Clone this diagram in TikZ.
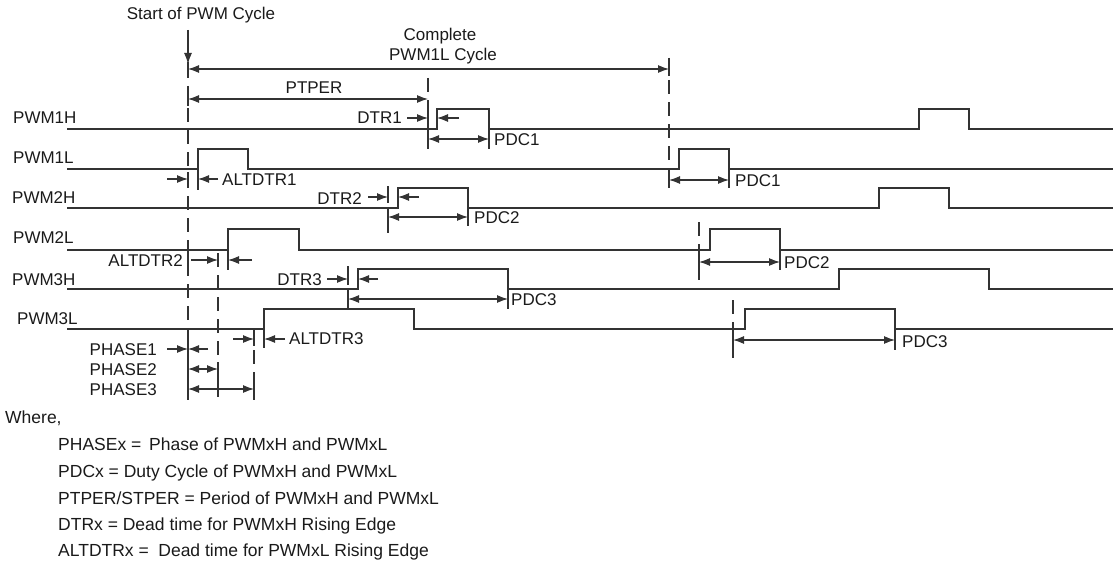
\documentclass[tikz,border=0pt]{standalone}
\usepackage{fontspec}
\setmainfont{Liberation Sans}
\usetikzlibrary{arrows.meta}
\definecolor{linea}{HTML}{333333}
\definecolor{testo}{HTML}{1A1A1A}
\tikzset{
  sig/.style={line width=1.3pt, linea},
  tick/.style={line width=1.2pt, linea},
  guida/.style={line width=1.2pt, linea, dash pattern=on 14pt off 8pt},
  punta/.tip={Latex[length=11pt,width=8pt]},
  quota/.style={line width=1.2pt, linea, -punta},
  quota2/.style={line width=1.2pt, linea, punta-punta},
  lbl/.style={inner sep=0pt, text height=12pt, text depth=0pt, text=testo, font=\fontsize{17}{20}\selectfont},
  leg/.style={lbl, anchor=west, font=\fontsize{17.5}{20}\selectfont},
}
\begin{document}
\begin{tikzpicture}[x=1pt,y=-1pt]
  \useasboundingbox (0,0) rectangle (1117,578);
  %segnali
  \draw[sig] (67,129) -| (437,109) -| (489,129) -| (919,109) -| (969,129) -- (1113,129);
  \draw[sig] (67,169) -| (198,149) -| (248,169) -| (679,149) -| (729,169) -- (1113,169);
  \draw[sig] (67,208) -| (398,188) -| (468,208) -| (879,188) -| (949,208) -- (1113,208);
  \draw[sig] (67,250) -| (228,229) -| (299,250) -| (710,229) -| (780,250) -- (1113,250);
  \draw[sig] (67,289) -| (358,269) -| (508,289) -| (839,269) -| (989,289) -- (1113,289);
  \draw[sig] (67,329) -| (264,309) -| (414,329) -| (745,309) -| (895,329) -- (1113,329);
  \node[lbl,anchor=west] (n1H) at (13,118) {PWM1H};
  \node[lbl,anchor=west] (n1L) at (13,157) {PWM1L};
  \node[lbl,anchor=west] (n2H) at (12,197) {PWM2H};
  \node[lbl,anchor=west] (n2L) at (13,237) {PWM2L};
  \node[lbl,anchor=west] (n3H) at (12,279) {PWM3H};
  \node[lbl,anchor=west] (n3L) at (17,318) {PWM3L};
  %linee guida
  \draw[guida] (188,64) -- (188,400);
  \draw[guida] (428,78) -- (428,149);
  \draw[guida] (669,58) -- (669,188);
  \draw[guida] (388,186) -- (388,233);
  \draw[guida] (348,266) -- (348,309);
  \draw[guida] (218,253) -- (218,397);
  \draw[guida] (254,328) -- (254,400);
  \draw[guida] (699,222) -- (699,282);
  \draw[guida] (733,300) -- (733,363);
  \draw[tick] (188,62) -- (188,76) (188,92) -- (188,106) (188,172) -- (188,186)
    (188,253) -- (188,268) (188,342) -- (188,356) (188,362) -- (188,400)
    (428,110) -- (428,125) (428,132) -- (428,149) (669,58) -- (669,76) (669,174) -- (669,188)
    (218,253) -- (218,267) (218,362) -- (218,397) (254,328) -- (254,346) (254,382) -- (254,400)
    (388,188) -- (388,203) (388,210) -- (388,233) (348,269) -- (348,285) (348,292) -- (348,309)
    (699,255) -- (699,269) (733,333) -- (733,347)
    (489,129) -- (489,149) (198,169) -- (198,190) (729,169) -- (729,188) (468,208) -- (468,226)
    (228,250) -- (228,270) (780,250) -- (780,270) (508,289) -- (508,309) (264,329) -- (264,348)
    (895,329) -- (895,350);
  %quote
  \node[lbl] (inizio) at (201,14) {Start of PWM Cycle};
  \draw[quota] (188,30) -- (188,64);
  \node[lbl] (ciclo) at (440,35) {Complete};
  \node[lbl] (ciclo2) at (443,55) {PWM1L Cycle};
  \draw[quota2] (188,69) -- (669,69);
  \node[lbl] (ptper) at (314,87) {PTPER};
  \draw[quota2] (188,99) -- (428,99);
  \node[lbl,anchor=east] (dtr1) at (402,118) {DTR1};
  \draw[quota] (407,118) -- (428,118);
  \draw[quota] (459,118) -- (437,118);
  \node[lbl,anchor=west] (pdc1) at (494,139) {PDC1};
  \draw[quota2] (428,139) -- (489,139);
  \node[lbl,anchor=west] (altdtr1) at (222,179) {ALTDTR1};
  \draw[quota] (167,179) -- (188,179);
  \draw[quota] (218,179) -- (198,179);
  \node[lbl,anchor=west] (pdc1b) at (735,180) {PDC1};
  \draw[quota2] (669,180) -- (729,180);
  \node[lbl,anchor=east] (dtr2) at (362,198) {DTR2};
  \draw[quota] (368,197) -- (388,197);
  \draw[quota] (419,197) -- (398,197);
  \node[lbl,anchor=west] (pdc2) at (474,217) {PDC2};
  \draw[quota2] (388,217) -- (468,217);
  \node[lbl,anchor=east] (altdtr2) at (183,260) {ALTDTR2};
  \draw[quota] (191,260) -- (218,260);
  \draw[quota] (252,260) -- (228,260);
  \node[lbl,anchor=west] (pdc2b) at (784,262) {PDC2};
  \draw[quota2] (699,262) -- (780,262);
  \node[lbl,anchor=east] (dtr3) at (322,279) {DTR3};
  \draw[quota] (327,279) -- (348,279);
  \draw[quota] (378,279) -- (358,279);
  \node[lbl,anchor=west] (pdc3) at (511,299) {PDC3};
  \draw[quota2] (348,299) -- (508,299);
  \node[lbl,anchor=west] (altdtr3) at (289,338) {ALTDTR3};
  \draw[quota] (233,339) -- (254,339);
  \draw[quota] (285,339) -- (264,339);
  \node[lbl,anchor=west] (pdc3b) at (902,341) {PDC3};
  \draw[quota2] (733,340) -- (895,340);
  \node[lbl,anchor=east] (fase1) at (157,349) {PHASE1};
  \draw[quota] (167,349) -- (188,349);
  \draw[quota] (208,349) -- (188,349);
  \node[lbl,anchor=east] (fase2) at (157,369) {PHASE2};
  \draw[quota2] (188,369) -- (218,369);
  \node[lbl,anchor=east] (fase3) at (157,389) {PHASE3};
  \draw[quota2] (188,389) -- (254,389);
  %legenda
  \node[leg] (dove) at (5,417) {Where,};
  \node[leg] (leg1) at (58,444) {PHASEx =\hspace{0.45em}Phase of PWMxH and PWMxL};
  \node[leg] (leg2) at (58,471) {PDCx = Duty Cycle of PWMxH and PWMxL};
  \node[leg] (leg3) at (58,498) {PTPER/STPER = Period of PWMxH and PWMxL};
  \node[leg] (leg4) at (58,524) {DTRx = Dead time for PWMxH Rising Edge};
  \node[leg] (leg5) at (58,550) {ALTDTRx =\hspace{0.55em}Dead time for PWMxL Rising Edge};
\end{tikzpicture}
\end{document}
